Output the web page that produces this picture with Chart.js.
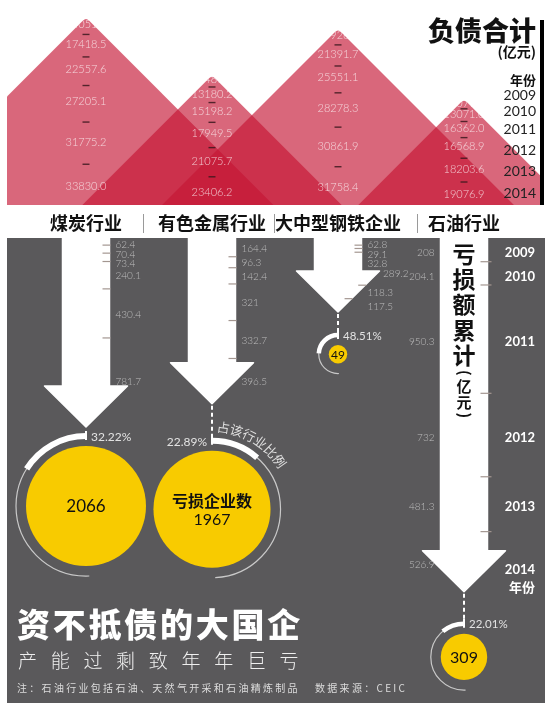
<!DOCTYPE html>
<html><head><meta charset="utf-8">
<script src="https://cdn.jsdelivr.net/npm/chart.js@4.4.1/dist/chart.umd.min.js"></script>
<style>
html,body{margin:0;padding:0;background:#fff}
#wrap{position:relative;width:550px;height:710px;overflow:hidden}
#debt{position:absolute;left:0;top:0}
#loss{position:absolute;left:0;top:207px}
</style></head><body>
<div id="wrap"><canvas id="debt" width="550" height="207"></canvas><canvas id="loss" width="550" height="503"></canvas></div>
<script>
const INDUSTRIES=['煤炭行业','有色金属行业','大中型钢铁企业','石油行业'];
const YEARS=['2009','2010','2011','2012','2013','2014'];
// 负债合计（亿元），顺序同 INDUSTRIES
const DEBT_2009=[14051.2,10487.7,17926.7,12079.1];
const DEBT_2010=[17418.5,13180.2,21391.7,13071.0];
const DEBT_2011=[22557.6,15198.2,25551.1,16362.0];
const DEBT_2012=[27205.1,17949.5,28278.3,16568.9];
const DEBT_2013=[31775.2,21075.7,30861.9,18203.6];
const DEBT_2014=[33830.0,23406.2,31758.4,19076.9];
// 亏损额（亿元）
const LOSS_2009=[62.4,164.4,62.8,208];
const LOSS_2010=[70.4,96.3,29.1,204.1];
const LOSS_2011=[73.4,142.4,32.8,950.3];
const LOSS_2012=[240.1,321,289.2,732];
const LOSS_2013=[430.4,332.7,118.3,481.3];
const LOSS_2014=[781.7,396.5,117.5,526.9];
const LOSS_FIRMS=[2066,1967,49,309];
const LOSS_SHARE=[32.22,22.89,48.51,22.01];

const DEBT=[DEBT_2009,DEBT_2010,DEBT_2011,DEBT_2012,DEBT_2013,DEBT_2014];
const LOSS=[LOSS_2009,LOSS_2010,LOSS_2011,LOSS_2012,LOSS_2013,LOSS_2014];

const CJK="'Noto Sans CJK SC'";
const PANEL='#5a595b',YELLOW='#f8cb00',RED='rgba(196,22,52,0.65)';
const ROW_FRAC=[0.035,0.145,0.275,0.45,0.665,0.9];
const LEGEND_Y=[95,111,129,150,171,193];
const HEAD_H=41,HEAD_W=41.5,RING_GAP=[9,37,23,32];

function spaced(ctx,text,x,y,gap){for(const ch of text){ctx.fillText(ch,x,y);x+=ctx.measureText(ch).width+gap;}return x;}
// glyph rotated 90deg, centred on (x,y) by its real ink box
function turned(ctx,ch,x,y){
  ctx.save();ctx.textBaseline='alphabetic';ctx.textAlign='left';
  const m=ctx.measureText(ch);
  const gx=(m.actualBoundingBoxRight-m.actualBoundingBoxLeft)/2,gy=(m.actualBoundingBoxDescent-m.actualBoundingBoxAscent)/2;
  ctx.translate(x,y);ctx.rotate(Math.PI/2);ctx.fillText(ch,-gx,-gy);ctx.restore();
}

const mountains={id:'mountains',
  afterDatasetsDraw(chart){
    const ctx=chart.ctx,a=chart.chartArea,bars=chart.getDatasetMeta(0).data;
    ctx.save();
    ctx.beginPath();ctx.rect(7,0,533,a.bottom);ctx.clip();
    ctx.fillStyle=RED;
    bars.forEach(b=>{
      const h=b.base-b.y;
      ctx.beginPath();ctx.moveTo(b.x-h,b.base);ctx.lineTo(b.x-3,b.y+3);
      ctx.quadraticCurveTo(b.x,b.y,b.x+3,b.y+3);ctx.lineTo(b.x+h,b.base);ctx.closePath();ctx.fill();
    });
    ctx.font="300 11px Lato";ctx.textAlign='center';ctx.textBaseline='middle';
    bars.forEach((b,i)=>{
      const h=b.base-b.y,ys=ROW_FRAC.map(f=>b.y+f*h);
      ys.forEach((y,j)=>{
        ctx.fillStyle='rgba(255,255,255,0.72)';ctx.fillText(DEBT[j][i].toFixed(1),b.x,y);
        if(j<ys.length-1){ctx.fillStyle='rgba(60,25,30,0.85)';ctx.fillRect(b.x-3.5,(y+ys[j+1])/2-0.7,7,1.4);}
      });
    });
    ctx.restore();
  },
  afterDraw(chart){
    const ctx=chart.ctx;
    ctx.save();
    ctx.fillStyle='#000';ctx.fillRect(540,20,4,185);
    ctx.textAlign='right';ctx.textBaseline='middle';ctx.fillStyle='#111';
    ctx.font="900 27px "+CJK;ctx.fillText('负债合计',536,31);
    ctx.font="bold 14px "+CJK;ctx.fillText('(亿元)',536,52);
    ctx.font="bold 13px "+CJK;ctx.fillText('年份',536,80);
    ctx.font="14px Lato";ctx.fillStyle='#222';
    YEARS.forEach((y,j)=>ctx.fillText(y,536,LEGEND_Y[j]));
    ctx.restore();
  }
};

new Chart(document.getElementById('debt'),{
  type:'bar',
  data:{labels:INDUSTRIES,datasets:[{label:'2014',data:DEBT_2014,backgroundColor:'rgba(0,0,0,0)',barThickness:2}]},
  options:{responsive:false,animation:false,events:[],
    layout:{padding:{left:23,right:23,top:0,bottom:2}},
    plugins:{legend:{display:false},tooltip:{enabled:false}},
    scales:{x:{display:false},y:{display:false,min:0,max:37000}}},
  plugins:[mountains]
});

const lossArt={id:'lossArt',
  beforeDraw(chart){
    const ctx=chart.ctx,xs=chart.scales.x;
    ctx.save();
    ctx.fillStyle='#fff';ctx.fillRect(0,0,chart.width,chart.height);
    ctx.fillStyle=PANEL;ctx.fillRect(7,31,538,465);
    ctx.font="bold 18px "+CJK;ctx.fillStyle='#111';ctx.textAlign='center';ctx.textBaseline='middle';
    const ext=INDUSTRIES.map((n,i)=>{const cx=xs.getPixelForValue(i),w=ctx.measureText(n).width;ctx.fillText(n,cx,16);return[cx-w/2,cx+w/2];});
    ctx.strokeStyle='#9a9a9a';ctx.lineWidth=1;
    for(let i=0;i<3;i++){const sx=Math.round((ext[i][1]+ext[i+1][0])/2)+3.5;ctx.beginPath();ctx.moveTo(sx,7);ctx.lineTo(sx,26);ctx.stroke();}
    ctx.restore();
  },
  afterDatasetsDraw(chart){
    const ctx=chart.ctx,n=chart.data.datasets.length;
    ctx.save();
    INDUSTRIES.forEach((name,i)=>{
      const els=chart.data.datasets.map((d,j)=>chart.getDatasetMeta(j).data[i]);
      const x=els[0].x,half=els[0].width/2,top=els[0].base,tip=els[n-1].y,headTop=tip-HEAD_H;
      const edge=y=>y<=headTop?x+half:x+HEAD_W*(tip-y)/HEAD_H;
      // arrow
      ctx.fillStyle='#fff';ctx.strokeStyle='#fff';ctx.lineJoin='round';ctx.lineWidth=1.5;
      ctx.beginPath();ctx.moveTo(x-half,top);ctx.lineTo(x+half,top);ctx.lineTo(x+half,headTop);
      ctx.lineTo(x+HEAD_W,headTop);ctx.lineTo(x,tip);ctx.lineTo(x-HEAD_W,headTop);ctx.lineTo(x-half,headTop);
      ctx.closePath();ctx.fill();ctx.stroke();
      // ticks at year boundaries
      ctx.strokeStyle='#a39690';ctx.lineWidth=1.2;
      for(let j=0;j<n-1;j++){const ty=els[j].y,ex=edge(ty);ctx.beginPath();ctx.moveTo(ex-7,ty);ctx.lineTo(ex+(i===3?4:1),ty);ctx.stroke();}
      // value labels
      let prev=-1e9;
      const ly=els.map((e,j)=>{
        const m=(e.base+e.y)/2+(i===3?3:1);let v=Math.max(m,prev+9.5,j===0?top+7:0);
        if(i!==3&&v<headTop&&v+4>headTop)v=headTop-4;
        prev=v;return v;});
      ctx.font="300 10px Lato";ctx.fillStyle='#bdbdbd';ctx.textBaseline='middle';
      ly.forEach((y,j)=>{
        const txt=String(LOSS[j][i]);
        if(i===3){ctx.textAlign='right';ctx.fillText(txt,x-half-6,y);}
        else{ctx.textAlign='left';ctx.fillText(txt,Math.max(x+half,edge(y))+6,y);}
      });
      if(i===3){
        ctx.font="bold 13px Lato";ctx.fillStyle='#fff';ctx.textAlign='right';
        ly.forEach((y,j)=>ctx.fillText(YEARS[j],535,j===n-1?y+5:y));
        ctx.font="bold 13px "+CJK;ctx.fillText('年份',535,ly[n-1]+22);
        // vertical title inside the shaft
        ctx.fillStyle='#111';ctx.textAlign='center';ctx.font="bold 23px "+CJK;
        [...'亏损额累计'].forEach((c,k)=>ctx.fillText(c,x,47+k*25.3));
        ctx.font="bold 15px "+CJK;
        ctx.fillText('亿',x,179);ctx.fillText('元',x,195);
        turned(ctx,'(',x,166);turned(ctx,')',x,208);
      }
      // ring + circle
      const r=1.32*Math.sqrt(LOSS_FIRMS[i]),R=r+10,cx=x,cy=tip+RING_GAP[i]+R,dir=i===1?1:-1;
      if(RING_GAP[i]>12){ctx.strokeStyle='#fff';ctx.lineWidth=2;ctx.setLineDash([4,3]);
        ctx.beginPath();ctx.moveTo(cx,tip+2);ctx.lineTo(cx,cy-R-2);ctx.stroke();ctx.setLineDash([]);}
      ctx.strokeStyle='#c9c9c9';ctx.lineWidth=1.2;
      ctx.beginPath();ctx.arc(cx,cy,R,-Math.PI/2,Math.PI/2*0.97,dir<0);ctx.stroke();
      ctx.strokeStyle='#fff';ctx.lineWidth=R>50?6:4.5;ctx.lineCap='butt';
      ctx.beginPath();ctx.arc(cx,cy,R,-Math.PI/2,-Math.PI/2+dir*LOSS_SHARE[i]/100*Math.PI,dir<0);ctx.stroke();
      ctx.lineWidth=2;ctx.beginPath();ctx.moveTo(cx,cy-R-5);ctx.lineTo(cx,cy-R+4);ctx.stroke();
      ctx.font=(R>50?"12px":"11.5px")+" Lato";ctx.fillStyle='#e2e2e2';ctx.textAlign=dir<0?'left':'right';ctx.textBaseline='middle';
      ctx.fillText(LOSS_SHARE[i].toFixed(2)+'%',cx-dir*5,cy-R+1);
      ctx.fillStyle=YELLOW;ctx.beginPath();ctx.arc(cx,cy,r,0,Math.PI*2);ctx.fill();
      ctx.fillStyle='#111';ctx.textAlign='center';
      if(i===1){
        ctx.font="bold 16px "+CJK;ctx.fillText('亏损企业数',cx,cy-8);
        ctx.font="16px Lato";ctx.fillText(String(LOSS_FIRMS[i]),cx,cy+11);
        ctx.font="13px "+CJK;ctx.fillStyle='#dedede';
        [...'占该行业比例'].forEach((c,k)=>{const ang=(8+k*9.3)*Math.PI/180;ctx.save();
          ctx.translate(cx+Math.sin(ang)*(R+14),cy-Math.cos(ang)*(R+14));ctx.rotate(ang);ctx.fillText(c,0,0);ctx.restore();});
      }else{
        ctx.font=(r>40?"17px":r>15?"16px":"12px")+" Lato";ctx.fillText(String(LOSS_FIRMS[i]),cx,cy+0.5);
      }
    });
    ctx.restore();
  },
  afterDraw(chart){
    const ctx=chart.ctx;
    ctx.save();ctx.textAlign='left';ctx.textBaseline='middle';ctx.fillStyle='#fff';
    ctx.font="900 33px "+CJK;spaced(ctx,'资不抵债的大国企',17,417,2.75);
    ctx.font="300 19px "+CJK;ctx.fillStyle='#efefef';spaced(ctx,'产能过剩致年年巨亏',18,454,13.7);
    ctx.font="10px "+CJK;ctx.fillStyle='#dcdcdc';
    spaced(ctx,'注：石油行业包括石油、天然气开采和石油精炼制品',17,481,2.3);
    spaced(ctx,'数据来源：CEIC',315,481,2.3);
    ctx.restore();
  }
};

new Chart(document.getElementById('loss'),{
  type:'bar',
  data:{labels:INDUSTRIES,datasets:LOSS.map((d,j)=>({label:YEARS[j],data:d,backgroundColor:'rgba(0,0,0,0)',barThickness:47}))},
  options:{responsive:false,animation:false,events:[],
    layout:{padding:{left:23,right:23,top:31,bottom:16}},
    plugins:{legend:{display:false},tooltip:{enabled:false}},
    scales:{x:{display:false,stacked:true},y:{display:false,stacked:true,reverse:true,min:0,max:4000}}},
  plugins:[lossArt]
});
</script>
</body></html>
